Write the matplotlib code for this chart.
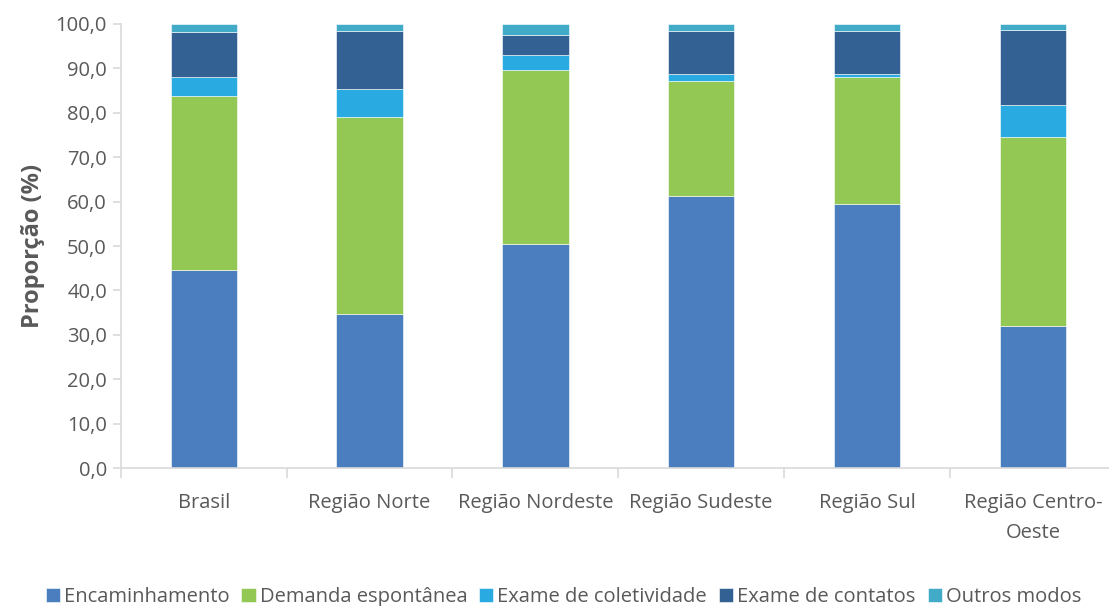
import matplotlib
matplotlib.use("Agg")
import matplotlib.pyplot as plt
import numpy as np

# Proporção (%) por modo de detecção
categories = ["Brasil", "Região Norte", "Região Nordeste", "Região Sudeste",
              "Região Sul", "Região Centro-\nOeste"]
encaminhamento = [44.6, 34.7, 50.5, 61.3, 59.5, 32.0]
demanda = [39.2, 44.3, 39.1, 25.9, 28.6, 42.5]
coletividade = [4.3, 6.4, 3.4, 1.5, 0.6, 7.3]
contatos = [10.0, 13.0, 4.6, 9.8, 9.7, 16.8]
outros = [1.9, 1.6, 2.4, 1.5, 1.6, 1.4]

series = [
    ("Encaminhamento", encaminhamento, "#4a7ebf"),
    ("Demanda espontânea", demanda, "#92c853"),
    ("Exame de coletividade", coletividade, "#29abe2"),
    ("Exame de contatos", contatos, "#336194"),
    ("Outros modos", outros, "#41abc8"),
]

TEXT = "#595959"
AXIS = "#d9d9d9"

plt.rcParams["font.family"] = ["Open Sans", "DejaVu Sans"]

fig = plt.figure(figsize=(11.09, 6.06), dpi=100)
ax = fig.add_axes([0.109, 0.2277, 0.897, 0.7327])

x = np.arange(len(categories))
bottom = np.zeros(len(categories))
for label, vals, color in series:
    vals = np.array(vals)
    ax.bar(x, vals, 0.4, bottom=bottom, color=color, label=label,
           edgecolor="white", linewidth=0.4)
    bottom += vals

ax.set_xlim(-0.5, len(categories) - 0.5)
ax.set_ylim(0, 100)
ax.set_yticks(np.arange(0, 101, 10))
ax.set_yticklabels([f"{v:.1f}".replace(".", ",") for v in range(0, 101, 10)])

ax.set_xticks(x)
ax.set_xticklabels(categories, linespacing=1.65)
ax.set_xticks(np.arange(-0.5, len(categories)), minor=True)
ax.tick_params(axis="x", which="major", length=0, pad=18,
               labelsize=14.5, labelcolor=TEXT)
ax.tick_params(axis="x", which="minor", length=7, color=AXIS, width=1.2)
ax.tick_params(axis="y", length=6, color=AXIS, width=1.2,
               labelsize=14.5, labelcolor=TEXT, pad=4)

for side in ["top", "right"]:
    ax.spines[side].set_visible(False)
for side in ["left", "bottom"]:
    ax.spines[side].set_color(AXIS)
    ax.spines[side].set_linewidth(1.2)

ax.set_ylabel("Proporção (%)", fontsize=17, fontweight="bold",
              color=TEXT, labelpad=8)

fig.legend(loc="lower center", bbox_to_anchor=(0.508, -0.031), ncol=5,
           frameon=False, fontsize=14.5, labelcolor=TEXT,
           handlelength=0.7, handleheight=0.7, handletextpad=0.2,
           columnspacing=0.6)

fig.savefig("out.png", dpi=100)
